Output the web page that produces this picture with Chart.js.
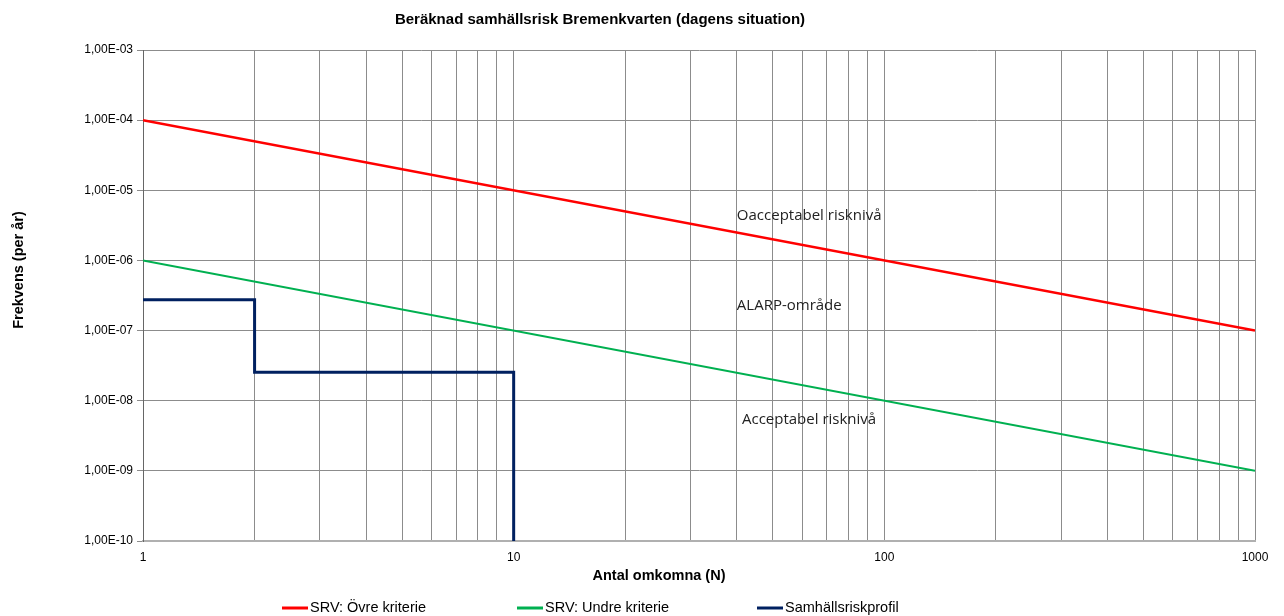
<!DOCTYPE html>
<html lang="sv">
<head>
<meta charset="utf-8">
<title>Beräknad samhällsrisk Bremenkvarten</title>
<script src="https://cdn.jsdelivr.net/npm/chart.js@4/dist/chart.umd.min.js"></script>
<style>
  html, body { margin: 0; padding: 0; background: #fff; }
  #wrap { position: relative; width: 1284px; height: 616px; }
</style>
</head>
<body>
<div id="wrap"><canvas id="chart"></canvas></div>
<script>
// ─── data ───────────────────────────────────────────────────────────────────
const upperN = [1, 1000];
const upperF = [1e-4, 1e-7];

const lowerN = [1, 1000];
const lowerF = [1e-6, 1e-9];

const profileN = [1, 2, 2, 10, 10];
const profileF = [2.75e-7, 2.75e-7, 2.55e-8, 2.55e-8, 1e-10];

const xTickLabels = [1, 10, 100, 1000];
const yTicks = [1e-3, 1e-4, 1e-5, 1e-6, 1e-7, 1e-8, 1e-9, 1e-10];

const zoneLabels = ['Oacceptabel risknivå', 'ALARP-område', 'Acceptabel risknivå'];
const zoneN = [40, 40, 41.3];
const zoneF = [4.4e-6, 2.27e-7, 5.4e-9];

const seriesNames = ['SRV: Övre kriterie', 'SRV: Undre kriterie', 'Samhällsriskprofil'];
const seriesColors = ['#ff0000', '#00b050', '#002060'];

const chartTitle = 'Beräknad samhällsrisk Bremenkvarten (dagens situation)';
const xTitle = 'Antal omkomna (N)';
const yTitle = 'Frekvens (per år)';

// ─── helpers ────────────────────────────────────────────────────────────────
const toPoints = (xs, ys) => xs.map((x, i) => ({ x, y: ys[i] }));

// grid lines at 1..9 of every decade up to the last labelled tick
function decadeGrid(decades) {
  const out = [];
  decades.forEach((d, i) => {
    if (i === decades.length - 1) { out.push(d); return; }
    for (let m = 1; m < 10; m++) out.push(d * m);
  });
  return out;
}

function sciLabel(v) {
  const exp = Math.round(Math.log10(v));
  const mant = v / Math.pow(10, exp);
  const sign = exp < 0 ? '-' : '+';
  return mant.toFixed(2).replace('.', ',') + 'E' + sign + String(Math.abs(exp)).padStart(2, '0');
}

const ARIAL = "'Liberation Sans', Arial, sans-serif";
const CALIBRI = "'Open Sans', 'Noto Sans', sans-serif";

// ─── extra texts: titles, zone labels, legend ───────────────────────────────
const textPlugin = {
  id: 'texts',
  afterDraw(c) {
    const ctx = c.ctx;
    const xs = c.scales.x;
    const ys = c.scales.y;
    ctx.save();
    ctx.fillStyle = '#000';
    ctx.textBaseline = 'middle';
    ctx.textAlign = 'center';

    ctx.font = 'bold 15px ' + ARIAL;
    ctx.fillText(chartTitle, 600, 20);

    ctx.font = 'bold 14.5px ' + ARIAL;
    ctx.fillText(xTitle, 659, 576);

    ctx.save();
    ctx.translate(19, 270);
    ctx.rotate(-Math.PI / 2);
    ctx.fillText(yTitle, 0, 0);
    ctx.restore();

    ctx.font = '15px ' + CALIBRI;
    ctx.textAlign = 'left';
    ctx.fillStyle = '#222';
    zoneLabels.forEach((t, i) => {
      ctx.fillText(t, xs.getPixelForValue(zoneN[i]), ys.getPixelForValue(zoneF[i]));
    });

    // legend
    const legendX = [282, 517, 757];
    const legendY = 608;
    ctx.font = '14.5px ' + ARIAL;
    seriesNames.forEach((name, i) => {
      ctx.strokeStyle = seriesColors[i];
      ctx.lineWidth = 3;
      ctx.beginPath();
      ctx.moveTo(legendX[i], legendY);
      ctx.lineTo(legendX[i] + 26, legendY);
      ctx.stroke();
      ctx.fillStyle = '#000';
      ctx.fillText(name, legendX[i] + 28, legendY);
    });
    ctx.restore();
  },
};

// ─── chart ──────────────────────────────────────────────────────────────────
new Chart(document.getElementById('chart'), {
  type: 'line',
  data: {
    datasets: [
      {
        label: seriesNames[0],
        data: toPoints(upperN, upperF),
        borderColor: seriesColors[0],
        borderWidth: 2.5,
        pointRadius: 0,
      },
      {
        label: seriesNames[1],
        data: toPoints(lowerN, lowerF),
        borderColor: seriesColors[1],
        borderWidth: 2,
        pointRadius: 0,
      },
      {
        label: seriesNames[2],
        data: toPoints(profileN, profileF),
        borderColor: seriesColors[2],
        borderWidth: 3,
        pointRadius: 0,
      },
    ],
  },
  options: {
    responsive: true,
    maintainAspectRatio: false,
    animation: false,
    layout: { padding: { top: 50, right: 29, bottom: 0, left: 0 } },
    plugins: {
      legend: { display: false },
      title: { display: false },
      tooltip: { enabled: false },
    },
    scales: {
      x: {
        type: 'logarithmic',
        min: 1,
        max: 1000,
        afterFit: (s) => { s.height = 75; },
        afterBuildTicks: (s) => { s.ticks = decadeGrid(xTickLabels).map((v) => ({ value: v })); },
        grid: { color: '#8c8c8c', lineWidth: 1, drawTicks: false },
        border: { color: '#b0b0b0', width: 2 },
        ticks: {
          autoSkip: false,
          maxRotation: 0,
          padding: 9,
          color: '#000',
          font: { family: ARIAL, size: 12 },
          callback: (v) => (xTickLabels.includes(v) ? String(v) : ''),
        },
      },
      y: {
        type: 'logarithmic',
        min: 1e-10,
        max: 1e-3,
        afterFit: (s) => { s.width = 143; },
        afterBuildTicks: (s) => { s.ticks = yTicks.map((v) => ({ value: v })); },
        grid: { color: '#8c8c8c', lineWidth: 1, tickLength: 6 },
        border: { color: '#666', width: 1 },
        ticks: {
          padding: 4,
          color: '#000',
          font: { family: ARIAL, size: 12 },
          callback: (v) => sciLabel(v),
        },
      },
    },
  },
  plugins: [textPlugin],
});
</script>
</body>
</html>
